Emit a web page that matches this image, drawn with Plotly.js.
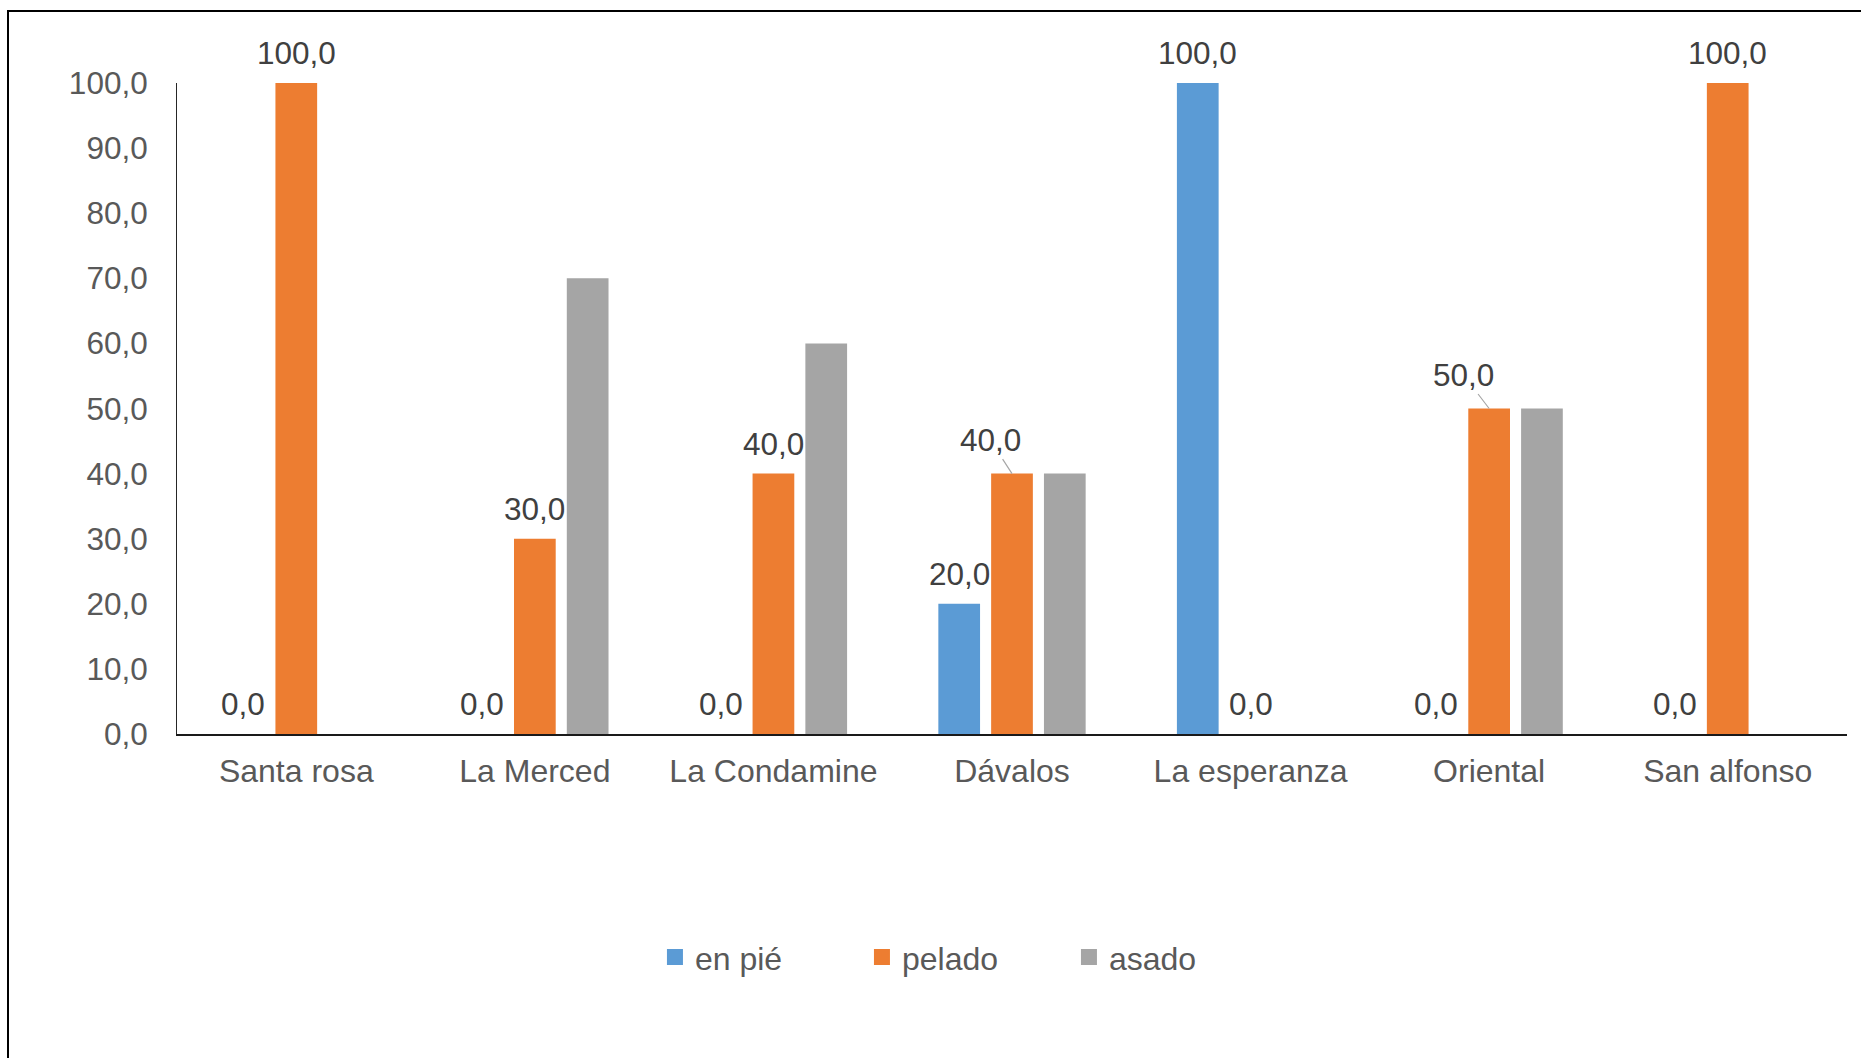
<!DOCTYPE html>
<html>
<head>
<meta charset="utf-8">
<script src="https://cdn.plot.ly/plotly-3.0.1.min.js"></script>
<style>
  html, body { margin: 0; padding: 0; background: #fff; overflow: hidden; }
  #chart { position: absolute; left: 0; top: 0; width: 1861px; height: 1058px; }
  #frame { position: absolute; left: 7px; top: 10px; width: 1900px; height: 1100px;
           border-left: 2px solid #000; border-top: 2px solid #000; pointer-events: none; }
</style>
</head>
<body>
<div id="chart"></div>
<div id="frame"></div>
<script>
// ---- data ----
const categories = ['Santa rosa', 'La Merced', 'La Condamine', 'Dávalos', 'La esperanza', 'Oriental', 'San alfonso'];
const enPie  = [0, 0, 0, 20, 100, 0, 0];
const pelado = [100, 30, 40, 40, 0, 50, 100];
const asado  = [null, 70, 60, 40, null, 50, null];
const seriesNames = ['en pié', 'pelado', 'asado'];
const yTicks = [0, 10, 20, 30, 40, 50, 60, 70, 80, 90, 100];

// ---- style / layout constants ----
const W = 1861, H = 1058;
const M = { l: 177, r: 14, t: 83, b: 324 };
const BARGAP = 0.336, GROUPGAP = 0.21;
const colors = ['#5B9BD5', '#ED7D31', '#A5A5A5'];
const FONT = '"Liberation Sans", Arial, sans-serif';
const FS = 31.5, FS_CAT = 32;
// labels moved off their default place (with leader line), offsets in px
const labelNudge = { 'pelado|Dávalos': { ax: -22, ay: -34 }, 'pelado|Oriental': { ax: -26, ay: -34 } };

const plotW = W - M.l - M.r;
const catW = plotW / categories.length;
const slot = catW * (1 - BARGAP) / 3;

const fmt = v => v.toFixed(1).replace('.', ',');

const allSeries = [enPie, pelado, asado];
const traces = allSeries.map((vals, k) => ({
  type: 'bar', name: seriesNames[k], x: categories, y: vals,
  marker: { color: colors[k], line: { width: 0 } },
  showlegend: false, hoverinfo: 'skip'
}));
// legend entries with larger square keys
seriesNames.forEach((n, k) => traces.push({
  type: 'scatter', mode: 'markers', name: n, x: [null], y: [null],
  marker: { symbol: 'square', size: 17, color: colors[k] }, hoverinfo: 'skip'
}));

// data labels only for "en pié" and "pelado"
const annotations = [];
[0, 1].forEach(k => {
  allSeries[k].forEach((v, i) => {
    if (v === null) return;
    const key = seriesNames[k] + '|' + categories[i];
    const a = {
      x: categories[i], y: v, xref: 'x', yref: 'y',
      text: fmt(v), font: { family: FONT, size: FS, color: '#404040' },
      xshift: (k - 1) * slot
    };
    if (labelNudge[key]) {
      Object.assign(a, { showarrow: true, arrowhead: 0, arrowwidth: 1.2, arrowcolor: '#A6A6A6',
        ax: labelNudge[key].ax, ay: labelNudge[key].ay, standoff: 0, startstandoff: 0 });
    } else {
      Object.assign(a, { showarrow: false, yanchor: 'bottom', yshift: 10 });
    }
    annotations.push(a);
  });
});

const layout = {
  width: W, height: H,
  margin: M,
  paper_bgcolor: '#fff', plot_bgcolor: '#fff',
  barmode: 'group', bargap: BARGAP, bargroupgap: GROUPGAP,
  separators: ',.',
  font: { family: FONT, size: FS, color: '#595959' },
  showlegend: true,
  legend: {
    orientation: 'h', x: 0.2862, xanchor: 'left', y: -0.343, yanchor: 'middle',
    entrywidth: 162, entrywidthmode: 'pixels',
    font: { family: FONT, size: FS_CAT, color: '#595959' },
    traceorder: 'normal'
  },
  xaxis: {
    type: 'category', showline: true, linecolor: '#1a1a1a', linewidth: 1.5,
    ticks: '', showgrid: false, zeroline: false,
    tickfont: { family: FONT, size: FS_CAT, color: '#595959' },
    ticklabelstandoff: 8
  },
  yaxis: {
    range: [0, 100], tickvals: yTicks, tickformat: '.1f',
    showline: true, linecolor: '#262626', linewidth: 1,
    ticks: '', showgrid: false, zeroline: false,
    tickfont: { family: FONT, size: FS, color: '#595959' },
    ticklabelstandoff: 22
  },
  annotations: annotations
};

Plotly.newPlot('chart', traces, layout, { staticPlot: true, displayModeBar: false });
</script>
</body>
</html>
